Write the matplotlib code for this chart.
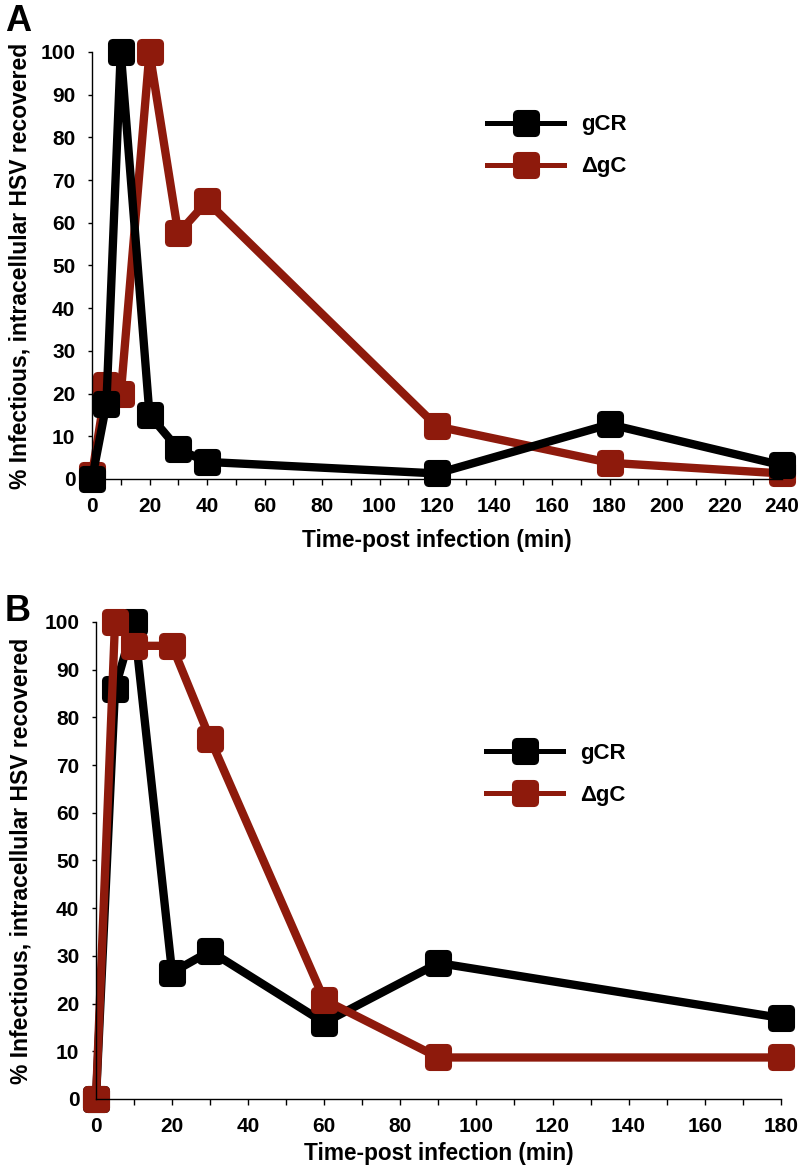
import matplotlib
matplotlib.use("Agg")
import matplotlib.pyplot as plt
from matplotlib.lines import Line2D
from matplotlib.patches import FancyBboxPatch

# Panel A data
time_a = [0, 5, 10, 20, 30, 40, 120, 180, 240]
gcr_a = [0, 17.5, 100, 15, 7, 4, 1.3, 12.8, 3.2]
dgc_a = [1, 22, 19.8, 100, 57.5, 65, 12.3, 3.8, 1.3]

# Panel B data
time_b = [0, 5, 10, 20, 30, 60, 90, 180]
gcr_b = [0, 86, 100, 26.5, 31, 16, 28.5, 17]
dgc_b = [0, 100, 95, 95, 75.5, 20.8, 8.7, 8.7]

series_names = ["gCR", "\u0394gC"]
black = "#000000"
red = "#8e1a0c"
font = ["Liberation Sans", "DejaVu Sans"]

# square marker with rounded corners
box = FancyBboxPatch((-0.5, -0.5), 1, 1, boxstyle="round,pad=0,rounding_size=0.18")
rsquare = box.get_path()

fig = plt.figure(figsize=(8, 11.7), dpi=100)
ax_a = fig.add_axes([0.115, 0.5906, 0.8625, 0.365])
ax_b = fig.add_axes([0.12, 0.0607, 0.856, 0.4077])

line_kw = dict(lw=6, marker=rsquare, ms=18.5, mew=1, solid_joinstyle="round")


def style_axis(ax, xmax, leg_x, leg_y, ylab_x, xlab_pad):
    ax.set_xlim(0, xmax)
    ax.set_ylim(0, 100)
    ax.set_xticks(range(0, xmax + 1, 20))
    ax.set_xticks(range(0, xmax + 1, 10), minor=True)
    ax.set_yticks(range(0, 101, 10))
    for s in ["top", "right"]:
        ax.spines[s].set_visible(False)
    for s in ["left", "bottom"]:
        ax.spines[s].set_linewidth(1.0)
    ax.tick_params(axis="x", which="both", direction="out", length=4, width=1.0, pad=9)
    ax.tick_params(axis="y", direction="out", length=3, width=1.0, pad=9)
    for t in ax.get_xticklabels() + ax.get_yticklabels():
        t.set_fontfamily(font)
        t.set_fontweight("bold")
        t.set_fontsize(15)
    ax.set_xlabel("Time-post infection (min)", family=font, fontweight="bold",
                  fontsize=16.3, labelpad=xlab_pad)
    ax.set_ylabel("% Infectious, intracellular HSV recovered", family=font,
                  fontweight="bold", fontsize=16.5)
    ax.yaxis.set_label_coords(ylab_x, 0.5)
    handles = [Line2D([], [], color=black, lw=3.6, marker=rsquare, ms=18.5),
               Line2D([], [], color=red, lw=3.6, marker=rsquare, ms=18.5)]
    ax.legend(handles, series_names, loc="center left", bbox_to_anchor=(leg_x, leg_y),
              frameon=False, handlelength=3.5, handletextpad=0.75, labelspacing=0.95,
              borderpad=0, borderaxespad=0,
              prop={"family": font, "weight": "bold", "size": 16})
    for ln in ax.lines:
        ln.set_clip_on(False)


# Panel A: red underneath black
ax_a.plot(time_a, dgc_a, color=red, **line_kw)
ax_a.plot(time_a, gcr_a, color=black, **line_kw)
style_axis(ax_a, 240, 0.572, 0.78, -0.087, 9)

# Panel B: black underneath red
ax_b.plot(time_b, gcr_b, color=black, **line_kw)
ax_b.plot(time_b, dgc_b, color=red, **line_kw)
style_axis(ax_b, 180, 0.569, 0.681, -0.092, 4)

fig.text(0.006, 0.997, "A", fontsize=26, fontweight="bold", family=font, va="top")
fig.text(0.006, 0.492, "B", fontsize=26, fontweight="bold", family=font, va="top")

fig.savefig("out.png", dpi=100)
